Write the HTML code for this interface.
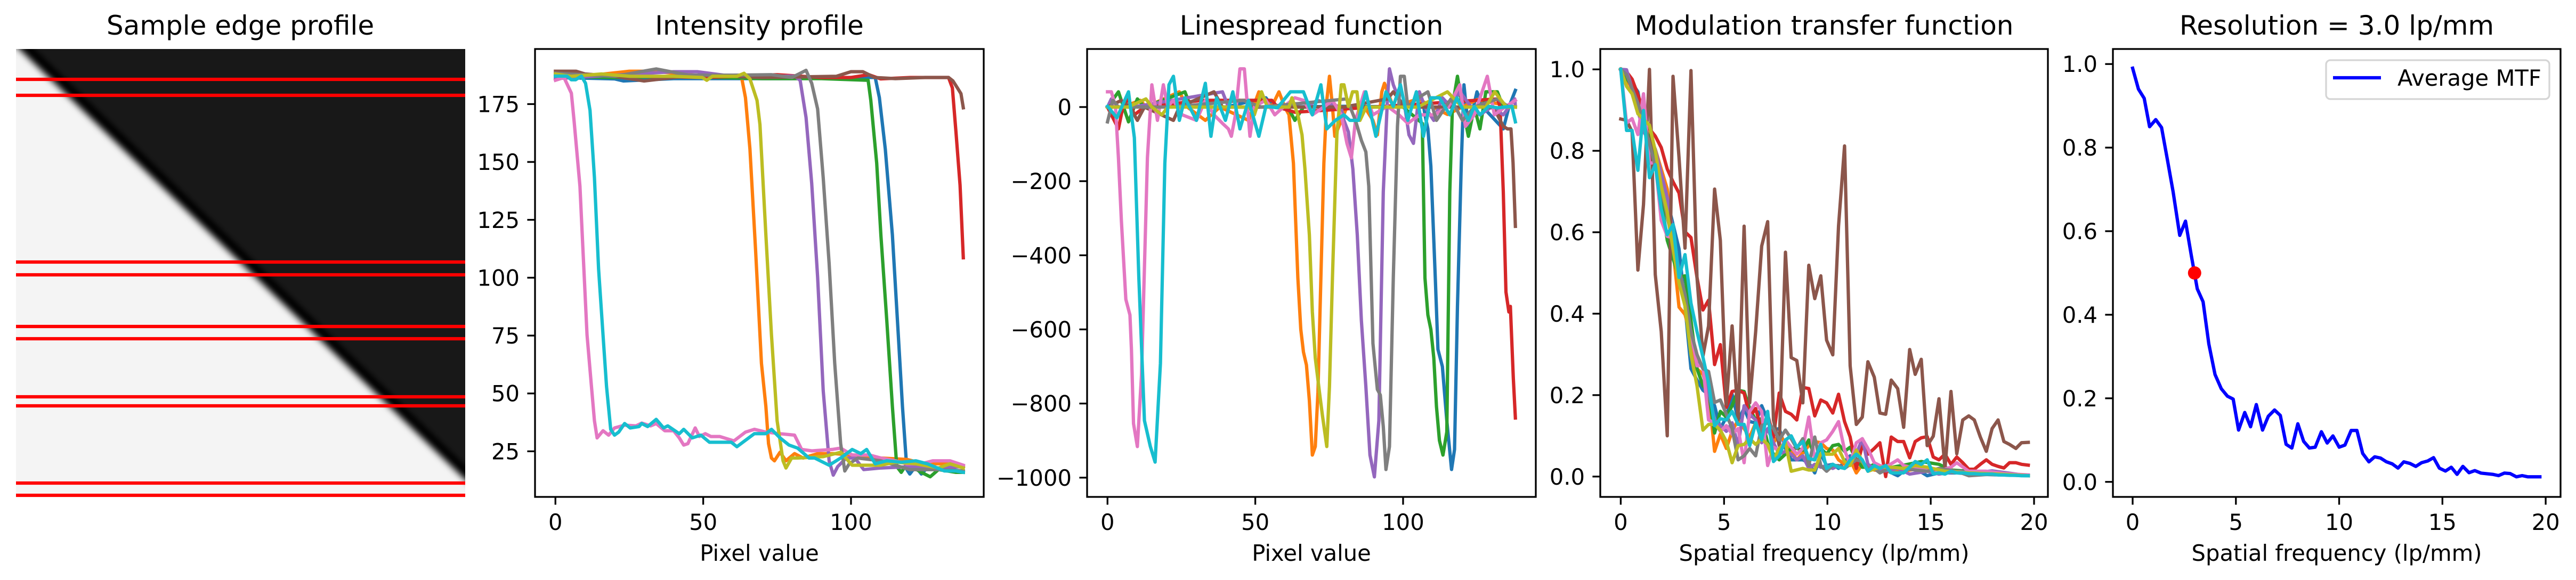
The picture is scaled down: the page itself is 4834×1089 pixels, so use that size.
<!DOCTYPE html>
<html>
<head>
<meta charset="utf-8">
<style>
html,body{margin:0;padding:0;background:#fff;}
svg{display:block;font-family:"DejaVu Sans","Liberation Sans",sans-serif;}
</style>
</head>
<body>
<svg id="fig" width="4834" height="1089" viewBox="0 0 4834 1089">
  <defs>
    <clipPath id="clip-img"><rect x="30" y="92" width="843" height="841"/></clipPath>
    <clipPath id="clip-p2"><rect x="1004" y="92" width="842" height="841"/></clipPath>
    <clipPath id="clip-p3"><rect x="2040" y="92" width="842" height="841"/></clipPath>
    <clipPath id="clip-p4"><rect x="3003" y="92" width="840" height="841"/></clipPath>
    <clipPath id="clip-p5"><rect x="3965" y="92" width="840" height="841"/></clipPath>
    <filter id="edge-blur" x="-10%" y="-10%" width="120%" height="120%"><feGaussianBlur stdDeviation="6"/></filter>
    <filter id="rim-blur" x="-10%" y="-10%" width="120%" height="120%"><feGaussianBlur stdDeviation="5"/></filter>
  </defs>
  <g>
    <text x="451" y="65" font-size="50" text-anchor="middle">Sample edge profile</text>
    <g clip-path="url(#clip-img)">
      <rect x="30" y="92" width="843" height="841" fill="#181818"/>
      <line x1="20" y1="60" x2="940" y2="950" stroke="#030303" stroke-width="16" filter="url(#rim-blur)"/>
      <polygon points="-50,60 2,60 920,947 920,990 -50,990" fill="#f4f4f4" filter="url(#edge-blur)"/>
    </g>
    <g id="rowlines"></g>
  </g>
  <g id="plots"></g>
</svg>
<script>
// ---------------- Data: sample rows ----------------
const rowYs = [149, 179, 492, 516, 613, 636, 745, 762, 907, 930];

// ---------------- Data: intensity profiles (pixel index, intensity) ----------------
const ipBlueX = [0,20,23,40,80,100,108.2,109.6,111.6,114,116,117.4,118.9,119.9,121.8,123.8,125.7,131.6,138];
const ipBlueY = [186.5,185.9,185,186,186,186.5,186.5,177.8,155.6,118.5,75.3,44.4,17.1,15.2,18.4,15.2,17.8,17.1,16.5];
const ipOrangeX = [0,10,25,33,45,58,62.9,64.3,65.8,67.7,69.7,71.2,72.1,73.1,74.1,76,78,80.9,83.8,88.7,94.5,100.4,110.1,118.9,124.8,133.5,138];
const ipOrangeY = [186.5,187.1,189.2,189.2,187.7,186.5,187.1,177.8,155.6,112.3,63,44.4,28.3,22.1,20.9,24.6,20.9,24,22.1,24,24,23.4,22.1,21.5,19.6,19.6,18.4];
const ipGreenX = [0,20,40,70,90,105.8,106.7,108.7,110.1,112.1,114,115.5,117,118.9,123.8,126.8,129.6,135.5,138];
const ipGreenY = [187,186.5,187,186,186,185.3,176.6,149.4,118.5,81.5,44.4,18.4,15.9,19.6,15.9,14,17.1,15.9,15.9];
const ipRedX = [0,30,50,75,90,100,106,110,120,133,134.3,135.5,136.9,138];
const ipRedY = [188.3,187,186.5,187.7,186.5,186.5,187.7,185.9,186.5,186.5,182,163,140,108.6];
const ipPurpleX = [0,40,48,60,80.9,82.8,84.8,86.7,88.7,90.6,92.6,94,95.5,98.4,101.3,104.3,110.1,119.9,129.6,138];
const ipPurpleY = [186,189,189,187,187.1,185.3,169.2,140.8,100.3,51.2,20.9,14.7,18.4,22.1,22.1,17.1,17.8,18.4,17.8,18.4];
const ipBrownX = [0,7,10,20,30,40,50,60,70,95,100,104,108,115,125,133,134.5,136,137.2,138];
const ipBrownY = [189.2,189.2,188,187,185,186.5,187.5,187,186.5,187,189,189,186.5,186,186.5,186.5,185,182,179.5,173.4];
const ipPinkX = [0,2.9,5.4,6.3,8.3,9.3,10.7,12.2,13.2,14.1,16.1,18,20,23.4,27.3,29.2,32.2,34.1,37,40,41.9,43.4,44.8,47.3,48.7,50.7,52.6,55.6,60.4,64.3,67.3,71.2,76,80.9,83.3,86.7,93.6,96.5,100.4,106.2,110.1,115,118.9,123.8,127.7,133.5,138];
const ipPinkY = [185.3,186.5,179.7,168,139.5,112.3,75.3,53,38.2,30.8,33.9,32,35.1,36.3,36,37.2,36,37,33.9,33.9,30.8,27.7,28.3,35.1,31.4,32.6,31.4,31.4,29.5,33.3,34.5,33.3,32.6,32,25.8,25.2,25.8,26.4,23.4,23.4,22.1,20.9,19.6,19.6,20.9,20.9,19];
const ipGrayX = [0,20,34.1,45,60,73,80,84.8,86.7,88.7,90.6,92.6,94.5,96.5,97.9,99.4,102.3,110.1,119.9,129.6,138];
const ipGrayY = [188.3,187,190.2,187.5,187.5,187.7,186.5,189.6,184,172.9,143.2,106.2,63,28.3,16.5,19.6,22.1,20.9,17.1,17.1,16.5];
const ipOliveX = [0,5.4,15.6,25.3,40,49.7,51.2,53.1,61.4,63.8,65.8,68.2,69.2,71.2,73.1,75,77,78,79.9,81.9,90.6,96.5,100.4,110.1,115,121.8,129.6,133.5,138];
const ipOliveY = [188,187,188,187,187,186.5,185.3,187,187,188.3,185.9,176.6,166.1,118.5,75.3,38.2,20.9,17.8,22.1,22.1,22.7,24.6,19,19,20.3,19.6,17.8,19.6,17.8];
const ipCyanX = [0,3.9,5.4,6.8,8.8,10.2,11.7,13.2,14.6,16.1,17.3,18.7,20,21.4,23.4,25.3,28.3,29.2,31.2,34.1,36.6,38,41.9,43.4,46.3,49.2,52.1,55.6,59.5,61.4,67.3,71.2,73.1,76,79,81.9,85.8,87.7,92.6,96.5,100.4,103.3,105.3,108.2,112.1,117,121.9,125.8,131.6,135.5,138];
const ipCyanY = [187.1,187.1,185.5,185.5,187.1,184,172.3,143.2,103.7,75.3,53,34.5,32,33.3,37,35.1,35.7,37,35.7,38.8,35.1,36,32.6,34.5,30.8,32,28.9,28.9,28.9,27,32.6,32.6,34.5,30.8,27.7,26.4,22.1,22.1,19,22.1,25.8,24,25.8,19.6,20.9,20.3,20.9,19.6,16.5,16.5,15.9];

// ---------------- Data: linespread functions ----------------
const lsBlueX = [0,20,40,53.6,56,80,107,107.4,108.4,109.4,110.9,111.8,113.3,114.8,116.4,117.4,118.4,119.7,120.6,122.1,125,127,133.9,135.8,138];
const lsBlueY = [0,2,0,25,0,2,0,-21,-59,-160,-461,-654,-700,-846,-978,-924,-538,-152,60,-59,41,0,-59,0,45];
const lsOrangeX = [0,5,11.1,13,24.3,27,33.1,38,47.7,51.2,55.5,58,60,61.4,62.9,64.4,65.4,66.3,67.3,68.3,69.3,70.3,71.2,72.2,73.2,74.2,75.1,76.1,76.9,81,87,89.8,91.3,92.8,93.7,96.7,105,115,125,138];
const lsOrangeY = [0,0,18,0,41,0,-36,0,-36,41,0,41,0,-21,-152,-461,-600,-661,-696,-792,-939,-916,-769,-461,-152,18,83,2,-79,0,0,-36,-75,41,64,0,22,-20,20,0];
const lsGreenX = [0,3.7,7.1,10.1,12.5,26.2,28.2,61,63.4,66.3,100,106.5,107.4,108.4,109.4,110.4,111.3,112.3,113.5,114.8,115.8,116.7,118.4,119.7,122.1,124.1,126,128,131.9,133.9,138];
const lsGreenY = [0,41,-40,22,0,41,0,0,-36,0,0,-44,-461,-561,-600,-677,-808,-900,-939,-877,-229,2,83,18,-79,0,-59,41,41,0,0];
const lsRedX = [0,3.7,5.2,7.1,9.1,12.5,32,55.6,57.5,63.4,90,131.9,132.8,133.9,134.8,135.8,136.3,137.3,138];
const lsRedY = [0,-59,0,22,-21,0,18,18,0,-14,0,22,2,-229,-499,-553,-538,-731,-839];
const lsPurpleX = [0,1.3,3.7,8.6,38.9,40.9,67,71,79,80,81.5,83,84.5,85.9,87.4,88.8,90.3,91.8,93.3,94.7,95.4,96.7,98.6,100.6,102,103.5,105.5,107.4,110.4,113.3,116.2,119.2,123.1,126,129.9,133.9,137.8,138];
const lsPurpleY = [0,22,0,0,41,0,0,18,0,-36,-67,-167,-345,-576,-754,-939,-998,-846,-229,22,103,60,22,0,-75,-98,41,0,-36,25,0,41,0,-21,0,-21,22,0];
const lsBrownX = [0,4.7,7.6,10.1,12.5,22.3,24.3,36,38.9,60,80,94.7,96.7,100.6,130,131.9,133.9,135.3,136.5,137.2,138];
const lsBrownY = [0,18,0,-36,0,-36,0,41,0,0,0,22,41,0,0,-21,-52,-59,-59,-150,-322];
const lsPinkX = [0,1.3,2.7,3.7,4.7,6.2,7.6,8.1,8.8,10.1,11.5,13.5,15,16.9,18.9,20.4,22.3,25.3,30.1,33.1,36,38.9,40.9,41.9,43.3,44.8,46.3,48.2,49.7,53.6,56.6,59.5,63.4,66.3,69.3,73.2,76.1,79.1,81,82.5,83.9,86.9,89.8,94.7,98.6,101.6,105.5,110.4,115.3,119.2,121.1,124.1,128.5,130.9,134.8,138];
const lsPinkY = [41,41,2,-137,-306,-519,-561,-654,-854,-916,-723,-137,60,-36,60,2,18,-21,-36,18,-21,-44,-59,-79,-21,103,103,-79,2,18,-21,0,25,18,-21,0,18,-21,-98,-137,-36,41,-21,2,-21,-44,-21,-21,0,60,-52,-21,83,-21,2,18];
const lsGrayX = [0,1.8,3.7,12,22,46,52,81,83.9,85.9,87.4,88.4,89.8,91.3,92.3,93.3,94.2,95.4,96.7,98.1,99.1,100.4,101.6,104.5,108.4,111.3,116.2,120.1,124.1,131.9,135.8,138];
const lsGrayY = [-40,18,0,0,0,18,0,22,-36,-90,-121,-214,-638,-762,-777,-862,-978,-916,-461,-52,83,83,0,22,41,-36,22,-36,0,22,0,0];
const lsOliveX = [0,2.5,6.9,13,15,18.4,20.4,48,49.7,52.1,54.1,61.4,62.4,64.4,65.8,66.8,68.3,69.3,70.3,71.7,72.7,74.2,75.1,76.1,77.6,79.1,80,81.5,82.9,84.4,85.4,87.5,95,105,115,120,128,131,135,138];
const lsOliveY = [0,0,0,22,0,-21,0,0,-21,41,0,0,25,-21,-75,-167,-345,-553,-677,-769,-831,-916,-754,-461,-75,60,60,2,41,41,-36,0,0,0,41,0,0,41,0,0];
const lsCyanX = [0,3.2,7.1,9.1,10.6,12.5,14.5,16.1,17.9,19.4,20.8,22.3,24.3,26.2,30.1,33.1,35,36.9,39.9,42.4,44.8,47.7,51.2,53.6,57.5,61.9,66.3,69.3,72.2,74.2,77.1,80,82,84.9,87.4,90.8,94.2,96.7,99.1,101.6,104.5,106.9,109.4,112.3,115.8,118.2,122.1,124.1,126,129,131.9,136.8,138];
const lsCyanY = [2,-29,41,-83,-461,-846,-916,-958,-692,-152,60,83,-36,25,-36,64,-79,25,-36,41,-59,18,-79,2,-2,41,41,-21,60,-59,-36,-21,-36,-36,41,-79,41,2,60,-36,41,-79,25,25,-21,25,-36,2,-21,2,-2,2,-40];

// ---------------- Data: MTF curves (lp/mm, modulation) ----------------
const mtfFreq = [0,0.28,0.55,0.83,1.1,1.39,1.67,1.96,2.25,2.53,2.82,3.11,3.4,3.69,3.98,4.25,4.54,4.82,5.11,5.39,5.68,5.97,6.24,6.53,6.82,7.11,7.39,7.67,7.97,8.25,8.52,8.81,9.1,9.39,9.68,9.96,10.26,10.54,10.83,11.1,11.4,11.69,11.96,12.27,12.54,12.82,13.09,13.4,13.69,13.98,14.25,14.54,14.83,15.12,15.4,15.69,15.98,16.26,16.55,16.84,17.11,17.4,17.69,17.97,18.26,18.54,18.81,19.12,19.39,19.72];
const mtfBrown = [0.878,0.875,0.847,0.507,0.668,1.0,0.496,0.356,0.1,0.983,0.783,0.561,0.997,0.489,0.296,0.37,0.706,0.58,0.177,0.37,0.139,0.615,0.181,0.356,0.566,0.626,0.139,0.076,0.551,0.292,0.285,0.181,0.519,0.437,0.493,0.335,0.299,0.615,0.812,0.272,0.128,0.146,0.282,0.244,0.156,0.153,0.237,0.216,0.121,0.312,0.251,0.288,0.076,0.099,0.191,0.02,0.209,0.056,0.139,0.149,0.139,0.097,0.062,0.118,0.139,0.086,0.079,0.069,0.083,0.084];
const mtfRed = [1.0,0.994,0.976,0.938,0.896,0.854,0.836,0.808,0.755,0.724,0.696,0.601,0.587,0.489,0.409,0.433,0.275,0.324,0.17,0.209,0.212,0.205,0.146,0.167,0.111,0.153,0.097,0.205,0.16,0.153,0.139,0.219,0.216,0.149,0.188,0.181,0.156,0.202,0.135,0.097,0.02,0.076,0.055,0.069,0.083,0.0,0.097,0.086,0.086,0.046,0.086,0.095,0.098,0.048,0.041,0.055,0.03,0.048,0.034,0.018,0.018,0.03,0.041,0.03,0.025,0.021,0.034,0.034,0.03,0.028];
const mtfCyan = [1.0,0.85,0.85,0.752,0.899,0.734,0.766,0.657,0.594,0.619,0.489,0.545,0.426,0.356,0.293,0.23,0.125,0.142,0.139,0.16,0.128,0.128,0.076,0.132,0.09,0.16,0.037,0.051,0.09,0.1,0.072,0.086,0.044,0.041,0.079,0.02,0.03,0.023,0.02,0.041,0.055,0.041,0.013,0.027,0.02,0.027,0.009,0.009,0.009,0.023,0.037,0.03,0.041,0.007,0.009,0.006,0.013,0.009,0.009,0.007,0.007,0.006,0.006,0.006,0.004,0.004,0.003,0.003,0.002,0.002];
const mtfBlueX = [0,0.55,0.83,1.1,1.67,2.25,2.82,3.11,3.4,3.69,3.98,4.25,4.54,4.82,5.11,5.39,5.68,5.97,6.24,6.53,6.82,7.11,7.39,7.67,7.97,8.25,8.52,8.81,9.1,9.39,9.68,9.96,10.26,10.54,10.83,11.1,11.4,11.69,12.27,12.82,13.4,13.69,14.25,14.83,15.4,16.26,17.11,18.35,19.72];
const mtfBlueY = [1.0,0.966,0.945,0.868,0.776,0.678,0.559,0.419,0.265,0.237,0.212,0.202,0.174,0.118,0.146,0.202,0.139,0.167,0.135,0.132,0.174,0.139,0.114,0.118,0.069,0.041,0.041,0.041,0.034,0.009,0.055,0.027,0.03,0.02,0.037,0.051,0.041,0.027,0.02,0.016,0.002,0.013,0.02,0.002,0.009,0.009,0.006,0.004,0.002];
const mtfOrangeX = [0,0.55,1.1,1.67,2.25,2.53,2.82,3.11,3.4,3.69,3.98,4.25,4.54,4.82,5.11,5.39,5.68,5.97,6.24,6.53,6.82,7.11,7.39,7.67,7.97,8.25,8.52,8.81,9.1,9.39,9.68,9.96,10.26,10.54,10.83,11.1,11.4,11.69,12.27,12.82,13.69,14.54,15.4,16.55,17.65,19.72];
const mtfOrangeY = [1.0,0.952,0.874,0.804,0.706,0.559,0.416,0.398,0.342,0.265,0.251,0.209,0.062,0.104,0.069,0.111,0.139,0.118,0.097,0.132,0.111,0.146,0.083,0.104,0.083,0.062,0.041,0.058,0.076,0.086,0.083,0.069,0.065,0.041,0.03,0.041,0.009,0.03,0.016,0.013,0.014,0.02,0.013,0.009,0.006,0.002];
const mtfGreenX = [0,0.55,1.1,1.67,2.25,2.82,3.11,3.4,3.69,3.98,4.25,4.54,4.82,5.11,5.39,5.68,5.97,6.24,6.53,6.82,7.11,7.39,7.67,7.97,8.25,8.52,8.81,9.1,9.39,9.68,9.96,10.26,10.54,10.83,11.1,11.4,11.69,11.96,12.27,12.82,13.69,14.54,15.4,15.98,16.84,17.97,19.72];
const mtfGreenY = [1.0,0.958,0.874,0.783,0.58,0.489,0.493,0.384,0.265,0.223,0.209,0.107,0.16,0.146,0.174,0.212,0.209,0.167,0.139,0.142,0.083,0.055,0.041,0.055,0.069,0.069,0.065,0.09,0.048,0.069,0.055,0.076,0.079,0.062,0.072,0.041,0.023,0.023,0.03,0.02,0.028,0.037,0.03,0.016,0.013,0.009,0.002];
const mtfPurpleX = [0,0.28,0.55,1.1,1.67,2.25,2.53,2.82,3.11,3.4,3.69,3.98,4.25,4.54,4.82,5.11,5.39,5.68,5.97,6.24,6.53,6.82,7.11,7.39,7.67,7.97,8.25,8.52,8.81,9.1,9.39,9.68,9.96,10.26,10.54,10.83,11.1,11.4,11.69,11.96,12.27,12.82,13.4,13.98,14.83,15.4,16.26,17.11,17.97,19.72];
const mtfPurpleY = [1.0,0.999,0.952,0.847,0.804,0.685,0.601,0.496,0.433,0.335,0.293,0.265,0.209,0.139,0.125,0.111,0.132,0.076,0.174,0.153,0.139,0.083,0.118,0.083,0.055,0.062,0.055,0.041,0.051,0.02,0.03,0.023,0.027,0.02,0.027,0.02,0.03,0.055,0.093,0.03,0.02,0.014,0.02,0.006,0.013,0.006,0.013,0.009,0.014,0.002];
const mtfPinkX = [0,0.28,0.55,0.83,1.1,1.39,1.67,1.96,2.25,2.53,2.82,3.11,3.4,3.69,3.98,4.25,4.54,4.82,5.11,5.39,5.68,5.97,6.24,6.53,6.82,7.11,7.39,7.67,7.97,8.25,8.52,8.81,9.1,9.39,9.68,9.96,10.26,10.54,10.83,11.1,11.4,11.69,11.96,12.27,12.54,12.82,13.4,13.69,14.25,14.83,15.4,15.98,16.26,16.84,17.69,18.6,19.72];
const mtfPinkY = [1.0,0.868,0.879,0.84,0.94,0.769,0.772,0.629,0.59,0.587,0.489,0.426,0.356,0.272,0.272,0.139,0.132,0.111,0.125,0.104,0.118,0.034,0.16,0.181,0.16,0.027,0.072,0.065,0.09,0.072,0.055,0.069,0.146,0.041,0.083,0.09,0.111,0.135,0.065,0.03,0.083,0.093,0.069,0.034,0.027,0.023,0.041,0.027,0.02,0.02,0.014,0.023,0.034,0.013,0.013,0.007,0.004];
const mtfGrayX = [0,0.28,0.83,1.39,1.96,2.53,3.11,3.4,3.69,3.98,4.25,4.54,4.82,5.11,5.39,5.68,5.97,6.24,6.53,6.82,7.11,7.39,7.67,7.97,8.25,8.52,8.81,9.1,9.39,9.68,9.96,10.26,10.54,10.83,11.1,11.4,11.69,11.96,12.27,12.54,13.09,13.69,14.25,14.83,15.4,16.26,16.84,17.97,19.72];
const mtfGrayY = [1.0,0.987,0.917,0.818,0.706,0.573,0.447,0.356,0.3,0.265,0.258,0.182,0.188,0.153,0.118,0.041,0.051,0.069,0.051,0.125,0.132,0.118,0.09,0.114,0.093,0.069,0.093,0.027,0.097,0.027,0.013,0.027,0.027,0.02,0.03,0.041,0.037,0.02,0.02,0.009,0.023,0.02,0.016,0.013,0.02,0.013,0.002,0.006,0.002];
const mtfOliveX = [0,0.28,0.55,0.83,1.39,1.67,1.96,2.25,2.53,2.82,3.11,3.4,3.69,3.98,4.25,4.54,4.82,5.11,5.39,5.68,5.97,6.24,6.53,6.82,7.11,7.39,7.67,7.97,8.25,8.81,9.1,9.39,9.68,9.96,10.26,10.54,10.83,11.1,11.4,11.96,12.54,13.09,13.69,14.25,14.83,15.69,16.84,18.35,19.72];
const mtfOliveY = [1.0,0.958,0.94,0.891,0.863,0.8,0.713,0.649,0.559,0.475,0.419,0.3,0.223,0.114,0.128,0.128,0.114,0.086,0.034,0.076,0.079,0.093,0.079,0.093,0.079,0.041,0.069,0.083,0.013,0.02,0.016,0.016,0.056,0.055,0.055,0.069,0.037,0.027,0.065,0.013,0.023,0.023,0.02,0.027,0.023,0.013,0.009,0.006,0.002];

// ---------------- Data: average MTF ----------------
const avgFreq = [0,0.28,0.56,0.82,1.12,1.4,1.68,1.96,2.28,2.56,2.84,3.13,3.41,3.69,3.99,4.29,4.59,4.87,5.13,5.43,5.71,5.99,6.29,6.57,6.87,7.15,7.43,7.71,8.0,8.28,8.56,8.84,9.14,9.42,9.7,10.0,10.28,10.58,10.86,11.14,11.44,11.72,12.0,12.29,12.57,12.85,13.13,13.43,13.71,13.99,14.29,14.57,14.85,15.15,15.43,15.71,15.99,16.29,16.57,16.87,17.43,17.72,18.0,18.28,18.58,18.86,19.14,19.72];
const avgMtf = [0.99,0.94,0.918,0.85,0.867,0.848,0.772,0.694,0.59,0.624,0.542,0.462,0.431,0.33,0.257,0.223,0.205,0.198,0.124,0.166,0.132,0.185,0.124,0.157,0.172,0.159,0.09,0.081,0.139,0.097,0.081,0.083,0.12,0.093,0.11,0.083,0.088,0.123,0.123,0.068,0.048,0.06,0.057,0.048,0.043,0.033,0.048,0.044,0.037,0.046,0.05,0.058,0.033,0.026,0.035,0.018,0.037,0.022,0.027,0.021,0.018,0.015,0.021,0.02,0.012,0.015,0.012,0.012];
const resPoint = [3.0, 0.5];

// ---------------- Tick labels ----------------
const pixTicks = [0, 50, 100];
const intensityTicks = [25, 50, 75, 100, 125, 150, 175];
const lsfTicks = [-1000, -800, -600, -400, -200, 0];
const freqTicks = [0, 5, 10, 15, 20];
const mtfTicks = [0.0, 0.2, 0.4, 0.6, 0.8, 1.0];

const C = {blue:'#1f77b4',orange:'#ff7f0e',green:'#2ca02c',red:'#d62728',purple:'#9467bd',brown:'#8c564b',pink:'#e377c2',gray:'#7f7f7f',olive:'#bcbd22',cyan:'#17becf'};

const svg = document.getElementById('fig');
const NS = svg.namespaceURI;
const root = document.getElementById('plots');
function mk(tag, attrs, parent){
  const el = document.createElementNS(NS, tag);
  for (const k in attrs) el.setAttribute(k, attrs[k]);
  parent.appendChild(el);
  return el;
}

// sample row lines
const rowG = document.getElementById('rowlines');
rowYs.forEach(function(y){
  const l = mk('line', {x1:30, x2:873, y1:y, y2:y, stroke:'#ff0000', 'stroke-width':6.25}, rowG);
  
  
});

function makeAxes(name, px0, px1, py0, py1, xlim, ylim, clipId){
  const g = mk('g', {}, root);
  
  
  const sx = v => px0 + (v - xlim[0]) / (xlim[1] - xlim[0]) * (px1 - px0);
  const sy = v => py1 - (v - ylim[0]) / (ylim[1] - ylim[0]) * (py1 - py0);
  const plot = mk('g', {'clip-path':'url(#' + clipId + ')'}, g);
  
  
  return {g, plot, sx, sy, px0, px1, py0, py1};
}
function fmtNum(v, dec){
  const s = Math.abs(v).toFixed(dec);
  return (v < 0 ? '\u2212' : '') + s;
}
function drawFrame(ax, title, xlabel, xt, yt, ydec){
  const frame = mk('rect', {x:ax.px0, y:ax.py0, width:ax.px1-ax.px0, height:ax.py1-ax.py0, fill:'none', stroke:'#000', 'stroke-width':3.3}, ax.g);
  
  
  xt.forEach(function(v){
    const x = ax.sx(v);
    const t = mk('line', {x1:x, x2:x, y1:ax.py1, y2:ax.py1+14.6, stroke:'#000', 'stroke-width':3.3}, ax.g);
    
    
    const lb = mk('text', {x:x, y:995, 'font-size':41.7, 'text-anchor':'middle'}, ax.g);
    lb.textContent = fmtNum(v, 0);
    
    
  });
  yt.forEach(function(v){
    const y = ax.sy(v);
    const t = mk('line', {x1:ax.px0-14.6, x2:ax.px0, y1:y, y2:y, stroke:'#000', 'stroke-width':3.3}, ax.g);
    
    
    const lb = mk('text', {x:ax.px0-29, y:y+15, 'font-size':41.7, 'text-anchor':'end'}, ax.g);
    lb.textContent = fmtNum(v, ydec);
    
    
  });
  const tt = mk('text', {x:(ax.px0+ax.px1)/2, y:65, 'font-size':50, 'text-anchor':'middle'}, ax.g);
  tt.textContent = title;
  
  
  const xl = mk('text', {x:(ax.px0+ax.px1)/2, y:1053, 'font-size':41.7, 'text-anchor':'middle'}, ax.g);
  xl.textContent = xlabel;
  
  
}
function drawLine(ax, xs, ys, color, name, w){
  const n = Math.min(xs.length, ys.length);
  let d = '';
  for (let i = 0; i < n; i++) d += (i ? 'L' : 'M') + ax.sx(xs[i]).toFixed(1) + ' ' + ax.sy(ys[i]).toFixed(1);
  const p = mk('path', {d:d, fill:'none', stroke:color, 'stroke-width':w || 6.25, 'stroke-linejoin':'round', 'stroke-linecap':'square'}, ax.plot);
  
  
}

// Panel 2: intensity profile
const a2 = makeAxes('intensity-profile-panel', 1004, 1846, 92, 933, [-6.9, 144.9], [5.3, 198.8], 'clip-p2');
drawLine(a2, ipBlueX, ipBlueY, C.blue, 'intensity-line-1');
drawLine(a2, ipOrangeX, ipOrangeY, C.orange, 'intensity-line-2');
drawLine(a2, ipGreenX, ipGreenY, C.green, 'intensity-line-3');
drawLine(a2, ipRedX, ipRedY, C.red, 'intensity-line-4');
drawLine(a2, ipPurpleX, ipPurpleY, C.purple, 'intensity-line-5');
drawLine(a2, ipBrownX, ipBrownY, C.brown, 'intensity-line-6');
drawLine(a2, ipPinkX, ipPinkY, C.pink, 'intensity-line-7');
drawLine(a2, ipGrayX, ipGrayY, C.gray, 'intensity-line-8');
drawLine(a2, ipOliveX, ipOliveY, C.olive, 'intensity-line-9');
drawLine(a2, ipCyanX, ipCyanY, C.cyan, 'intensity-line-10');
drawFrame(a2, 'Intensity profile', 'Pixel value', pixTicks, intensityTicks, 0);

// Panel 3: linespread function
const a3 = makeAxes('linespread-panel', 2040, 2882, 92, 933, [-6.9, 144.9], [-1052, 156.6], 'clip-p3');
drawLine(a3, lsBlueX, lsBlueY, C.blue, 'lsf-line-1');
drawLine(a3, lsOrangeX, lsOrangeY, C.orange, 'lsf-line-2');
drawLine(a3, lsGreenX, lsGreenY, C.green, 'lsf-line-3');
drawLine(a3, lsRedX, lsRedY, C.red, 'lsf-line-4');
drawLine(a3, lsPurpleX, lsPurpleY, C.purple, 'lsf-line-5');
drawLine(a3, lsBrownX, lsBrownY, C.brown, 'lsf-line-6');
drawLine(a3, lsPinkX, lsPinkY, C.pink, 'lsf-line-7');
drawLine(a3, lsGrayX, lsGrayY, C.gray, 'lsf-line-8');
drawLine(a3, lsOliveX, lsOliveY, C.olive, 'lsf-line-9');
drawLine(a3, lsCyanX, lsCyanY, C.cyan, 'lsf-line-10');
drawFrame(a3, 'Linespread function', 'Pixel value', pixTicks, lsfTicks, 0);

// Panel 4: MTF curves
const a4 = makeAxes('mtf-panel', 3003, 3843, 92, 933, [-0.99, 20.67], [-0.05, 1.05], 'clip-p4');
drawLine(a4, mtfBlueX, mtfBlueY, C.blue, 'mtf-line-1');
drawLine(a4, mtfOrangeX, mtfOrangeY, C.orange, 'mtf-line-2');
drawLine(a4, mtfGreenX, mtfGreenY, C.green, 'mtf-line-3');
drawLine(a4, mtfFreq, mtfRed, C.red, 'mtf-line-4');
drawLine(a4, mtfPurpleX, mtfPurpleY, C.purple, 'mtf-line-5');
drawLine(a4, mtfFreq, mtfBrown, C.brown, 'mtf-line-6');
drawLine(a4, mtfPinkX, mtfPinkY, C.pink, 'mtf-line-7');
drawLine(a4, mtfGrayX, mtfGrayY, C.gray, 'mtf-line-8');
drawLine(a4, mtfOliveX, mtfOliveY, C.olive, 'mtf-line-9');
drawLine(a4, mtfFreq, mtfCyan, C.cyan, 'mtf-line-10');
drawFrame(a4, 'Modulation transfer function', 'Spatial frequency (lp/mm)', freqTicks, mtfTicks, 1);

// Panel 5: average MTF
const a5 = makeAxes('average-mtf-panel', 3965, 4805, 92, 933, [-0.955, 20.72], [-0.036, 1.036], 'clip-p5');
drawLine(a5, avgFreq, avgMtf, '#0000ff', 'average-mtf-line');
const dot = mk('circle', {cx:a5.sx(resPoint[0]), cy:a5.sy(resPoint[1]), r:12.5, fill:'#ff0000'}, a5.plot);


drawFrame(a5, 'Resolution = 3.0 lp/mm', 'Spatial frequency (lp/mm)', freqTicks, mtfTicks, 1);

// legend
const lg = mk('g', {}, a5.g);


const lbox = mk('rect', {x:4365, y:113, width:419, height:73, rx:8, fill:'#fff', 'fill-opacity':0.8, stroke:'#d5d5d5', 'stroke-width':3.3}, lg);


const lline = mk('line', {x1:4378, x2:4468, y1:146, y2:146, stroke:'#0000ff', 'stroke-width':6.25}, lg);


const ltxt = mk('text', {x:4499, y:161, 'font-size':41.7}, lg);
ltxt.textContent = 'Average MTF';


</script>
</body>
</html>
